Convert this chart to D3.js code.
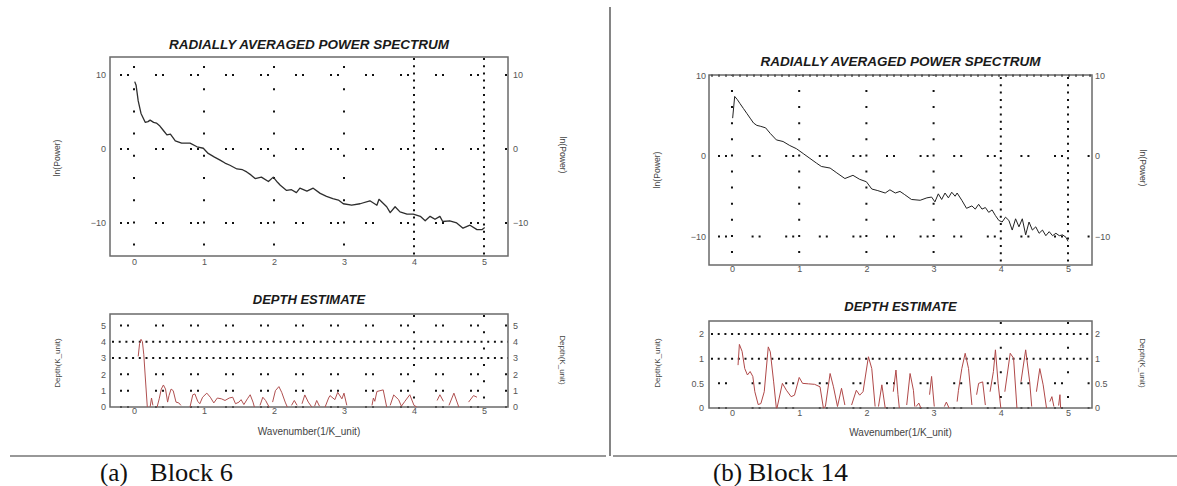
<!DOCTYPE html>
<html><head><meta charset="utf-8">
<script src="https://cdn.jsdelivr.net/npm/d3@7"></script>
<style>body{margin:0;background:#fff;} svg{display:block;}</style>
</head><body>
<svg id="c" width="1177" height="486"></svg>
<script>
// ---------------- DATA ----------------
const wavenumberTicks = [0, 1, 2, 3, 4, 5];
const powerTicks = [-10, 0, 10];
const depthTicksA = [0, 1, 2, 3, 4, 5];
const depthTicksB = [0, 0.5, 1, 1.5];
const depthTickLabelsB = ["0", "0.5", "1", "2"];
const chartTitles = ["RADIALLY AVERAGED POWER SPECTRUM", "DEPTH ESTIMATE"];
const axisTitles = ["ln(Power)", "Depth(K_unit)", "Wavenumber(1/K_unit)"];
const captions = [["(a)", "Block 6"], ["(b)", "Block 14"]];

// Block 6 : ln(Power) vs wavenumber
const powerA = [[0.01,9.1],[0.03,8.6],[0.06,6.5],[0.1,4.8],[0.16,3.6],[0.2,3.7],[0.23,3.9],[0.28,3.6],[0.32,3.5],[0.37,3.1],
  [0.42,2.5],[0.47,1.9],[0.52,2.0],[0.59,1.1],[0.68,0.8],[0.8,0.8],[0.9,0.3],[0.99,0.1],[1.06,-0.6],[1.15,-1.1],
  [1.23,-1.5],[1.3,-1.9],[1.37,-2.2],[1.47,-2.7],[1.55,-2.8],[1.61,-3.1],[1.67,-3.5],[1.73,-4.0],[1.82,-3.8],[1.92,-4.4],
  [1.99,-3.8],[2.05,-4.5],[2.09,-4.9],[2.18,-5.6],[2.25,-5.5],[2.32,-5.9],[2.37,-5.3],[2.47,-5.7],[2.56,-5.3],[2.66,-6.0],
  [2.75,-6.4],[2.84,-6.7],[2.92,-6.9],[2.99,-7.4],[3.11,-7.6],[3.23,-7.4],[3.37,-7.0],[3.47,-7.6],[3.5,-6.8],[3.61,-7.8],
  [3.66,-8.6],[3.73,-7.8],[3.8,-8.5],[3.9,-8.8],[3.99,-8.8],[4.09,-9.1],[4.16,-9.7],[4.23,-9.1],[4.3,-9.5],[4.37,-9.1],
  [4.41,-9.8],[4.51,-9.7],[4.61,-10.0],[4.7,-10.7],[4.8,-10.3],[4.9,-10.9],[4.97,-10.9],[5.01,-10.6]];

// Block 6 : depth estimate (null = break in the curve)
const depthA = [[0.06,3.1],[0.08,3.9],[0.10,4.15],[0.12,4.0],[0.14,3.2],[0.16,1.9],[0.19,0.0],null,
  [0.23,0.0],[0.25,0.55],[0.27,0.1],null,
  [0.33,0.0],[0.36,0.5],[0.39,1.1],[0.42,1.35],[0.45,1.1],[0.48,0.3],[0.50,0.7],[0.53,1.1],[0.56,1.0],[0.60,0.3],[0.64,0.25],[0.67,0.1],null,
  [0.80,0.0],[0.84,0.75],[0.87,0.8],[0.91,0.35],[0.94,0.2],[0.98,0.6],[1.04,0.85],[1.09,0.6],[1.14,0.25],[1.19,0.55],[1.25,0.5],
  [1.30,0.4],[1.36,0.55],[1.41,0.6],[1.45,0.2],[1.50,0.3],[1.53,0.45],[1.57,0.15],[1.62,0.5],[1.66,0.75],[1.70,0.3],[1.72,0.0],null,
  [1.80,0.1],[1.84,0.6],[1.88,0.4],[1.93,0.0],null,
  [1.98,0.3],[2.02,1.0],[2.07,1.25],[2.11,0.9],[2.16,0.3],[2.19,0.0],null,
  [2.25,0.1],[2.29,0.4],[2.33,0.1],null,
  [2.40,0.2],[2.44,0.74],[2.49,0.3],[2.54,0.0],null,
  [2.58,0.05],[2.61,0.4],[2.65,0.05],null,
  [2.73,0.0],[2.78,0.55],[2.80,0.7],[2.87,0.45],[2.91,0.9],[2.97,0.5],[3.00,0.85],[3.04,0.1],null,
  [3.40,0.1],[3.42,0.55],[3.44,0.35],[3.47,0.95],[3.56,1.05],[3.61,0.0],null,
  [3.66,0.1],[3.71,0.74],[3.78,0.45],[3.82,0.05],[3.87,0.35],[3.94,0.75],[4.00,0.1],[4.04,0.0],null,
  [4.33,0.4],[4.37,0.75],[4.42,0.35],null,
  [4.50,0.1],[4.57,0.85],[4.64,0.0],null,
  [4.78,0.3],[4.85,0.7],[4.90,0.6]];

// Block 14 : ln(Power) vs wavenumber
const powerB = [[0.01,4.7],[0.04,7.4],[0.08,7.0],[0.12,6.5],[0.17,5.9],[0.22,5.3],[0.27,4.7],[0.32,4.1],[0.37,3.8],[0.42,3.7],
  [0.5,3.5],[0.57,2.8],[0.66,2.0],[0.76,1.8],[0.86,1.3],[0.96,0.9],[1.06,0.3],[1.16,-0.3],[1.26,-0.9],[1.33,-1.3],
  [1.46,-1.5],[1.56,-2.1],[1.68,-2.8],[1.8,-2.4],[1.9,-2.9],[2.0,-3.2],[2.08,-4.1],[2.17,-4.3],[2.28,-4.6],[2.35,-4.2],
  [2.43,-4.6],[2.5,-4.4],[2.57,-4.8],[2.67,-5.4],[2.8,-5.5],[2.9,-5.2],[2.97,-5.1],[3.02,-5.7],[3.07,-4.7],[3.12,-5.4],
  [3.17,-4.6],[3.22,-5.2],[3.27,-4.5],[3.32,-5.0],[3.35,-4.6],[3.42,-5.5],[3.49,-6.5],[3.57,-6.2],[3.62,-6.6],[3.67,-6.0],
  [3.72,-6.6],[3.77,-6.4],[3.82,-7.0],[3.87,-6.7],[3.92,-7.4],[3.97,-8.0],[4.02,-8.2],[4.07,-7.6],[4.12,-8.0],[4.17,-9.2],
  [4.22,-7.8],[4.27,-8.8],[4.32,-7.8],[4.37,-9.8],[4.42,-8.2],[4.47,-9.2],[4.52,-8.8],[4.57,-9.6],[4.62,-9.2],[4.67,-9.9],
  [4.72,-9.4],[4.77,-9.9],[4.82,-9.6],[4.87,-9.9],[4.92,-9.8],[4.97,-10.1],[5.0,-10.6]];

// Block 14 : depth estimate (null = break in the curve)
const depthB = [[0.09,0.87],[0.11,1.29],[0.15,1.15],[0.19,0.8],[0.23,0.67],[0.27,0.74],[0.31,0.64],[0.34,0.33],[0.39,0.07],
  [0.43,0.09],[0.48,0.33],[0.54,1.24],[0.57,1.14],[0.62,0.53],[0.66,0.0],[0.67,0.0],[0.75,0.5],[0.81,0.36],[0.88,0.23],
  [0.93,0.26],[1.00,0.62],[1.05,0.5],[1.14,0.49],[1.23,0.48],[1.31,0.43],[1.36,0.0],[1.39,0.03],[1.46,0.7],[1.51,0.43],
  [1.57,0.03],[1.63,0.4],[1.68,0.06],null,
  [1.78,0.06],[1.85,0.36],[1.90,0.26],[1.95,0.33],[2.03,1.04],[2.08,0.8],[2.13,0.03],null,
  [2.18,0.03],[2.23,0.47],[2.28,0.0],null,
  [2.40,0.33],[2.44,0.77],[2.47,0.27],[2.49,0.0],null,
  [2.60,0.06],[2.65,0.7],[2.70,0.36],[2.72,0.03],null,
  [2.74,0.03],[2.78,0.1],[2.81,0.0],null,
  [2.94,0.27],[2.97,0.64],[3.01,0.03],null,
  [3.16,0.03],[3.19,0.12],[3.23,0.0],null,
  [3.35,0.13],[3.37,0.36],[3.42,0.8],[3.47,1.11],[3.52,0.8],[3.57,0.06],null,
  [3.64,0.27],[3.67,0.5],[3.73,0.53],[3.77,0.06],null,
  [3.84,0.33],[3.89,0.74],[3.92,1.18],[3.96,0.5],[4.00,0.0],null,
  [4.06,0.33],[4.14,1.11],[4.19,1.01],[4.24,0.0],null,
  [4.30,0.53],[4.37,1.18],[4.43,0.53],[4.46,0.03],null,
  [4.53,0.33],[4.58,0.8],[4.63,0.47],[4.68,0.0],null,
  [4.73,0.13],[4.76,0.23],[4.79,0.03],null,
  [4.86,0.05],[4.88,0.27],[4.89,0.0]];

// ---------------- DRAWING ----------------
const svg = d3.select("#c");
const SANS = "'Liberation Sans', Arial, Helvetica, sans-serif";
const SERIF = "'Liberation Serif', 'Times New Roman', serif";
const PAIRS = "2,5,2,26";

function drawChart(cfg) {
  const g = svg.append("g");
  const x = d3.scaleLinear().domain(cfg.xDomain).range([cfg.left, cfg.right]);
  const y = d3.scaleLinear().domain(cfg.yDomain).range([cfg.bottom, cfg.top]);

  // dotted grid
  const gg = g.append("g").attr("stroke", "#111").attr("stroke-width", 2).attr("fill", "none");
  (cfg.vGrid || []).forEach(([vals, dash, first]) => {
    const period = dash.split(",").map(Number).reduce((a, b) => a + b, 0);
    vals.forEach(v => gg.append("line")
      .attr("x1", x(v)).attr("x2", x(v)).attr("y1", cfg.top).attr("y2", cfg.bottom)
      .attr("stroke-dasharray", dash).attr("stroke-dashoffset", period - first));
  });
  (cfg.hGrid || []).forEach(([vals, dash, first]) => {
    const period = dash.split(",").map(Number).reduce((a, b) => a + b, 0);
    vals.forEach(v => gg.append("line")
      .attr("y1", y(v)).attr("y2", y(v)).attr("x1", cfg.left).attr("x2", cfg.right)
      .attr("stroke-dasharray", dash).attr("stroke-dashoffset", period - first));
  });

  // frame
  g.append("rect").attr("x", cfg.left).attr("y", cfg.top)
    .attr("width", cfg.right - cfg.left).attr("height", cfg.bottom - cfg.top)
    .attr("fill", "none").attr("stroke", "#6a6a6a").attr("stroke-width", 1.5);

  // data line
  const line = d3.line().defined(d => d !== null).x(d => x(d[0])).y(d => y(d[1]));
  g.append("path").datum(cfg.data).attr("d", line)
    .attr("fill", "none").attr("stroke", cfg.color).attr("stroke-width", cfg.lineWidth)
    .attr("stroke-linejoin", "round");

  // axes (labels only)
  const fmt = cfg.yLabels ? (d, i) => cfg.yLabels[i] : d3.format("d");
  const style = sel => {
    sel.select(".domain").remove();
    sel.selectAll("text").attr("font-family", SANS).attr("font-size", 9).attr("fill", "#555");
  };
  g.append("g").attr("transform", `translate(0,${cfg.bottom})`)
    .call(d3.axisBottom(x).tickValues(wavenumberTicks).tickSize(0).tickPadding(cfg.xPad).tickFormat(d3.format("d")))
    .call(style);
  g.append("g").attr("transform", `translate(${cfg.left},0)`)
    .call(d3.axisLeft(y).tickValues(cfg.yTicks).tickSize(0).tickPadding(cfg.lPad).tickFormat(fmt))
    .call(style);
  g.append("g").attr("transform", `translate(${cfg.right},0)`)
    .call(d3.axisRight(y).tickValues(cfg.yTicks).tickSize(0).tickPadding(cfg.rPad).tickFormat(fmt))
    .call(style);

  // title
  g.append("text").attr("x", (cfg.left + cfg.right) / 2).attr("y", cfg.titleY)
    .attr("text-anchor", "middle").attr("dominant-baseline", "middle")
    .attr("font-family", SANS).attr("font-size", cfg.titleSize).attr("font-weight", "bold")
    .attr("font-style", "italic").attr("fill", "#1a1a1a").text(cfg.title);

  // y axis titles
  g.append("text").attr("transform", `translate(${cfg.yTitleL[0]},${cfg.yTitleL[1]}) rotate(-90)`)
    .attr("text-anchor", "middle").attr("dominant-baseline", "middle")
    .attr("font-family", SANS).attr("font-size", cfg.yTitleSize).attr("fill", "#444").text(cfg.yTitle);
  g.append("text").attr("transform", `translate(${cfg.yTitleR[0]},${cfg.yTitleR[1]}) rotate(90)`)
    .attr("text-anchor", "middle").attr("dominant-baseline", "middle")
    .attr("font-family", SANS).attr("font-size", cfg.yTitleSize).attr("fill", "#444").text(cfg.yTitle);

  if (cfg.xTitleY) {
    g.append("text").attr("x", (cfg.left + cfg.right) / 2).attr("y", cfg.xTitleY)
      .attr("text-anchor", "middle").attr("dominant-baseline", "middle")
      .attr("font-family", SANS).attr("font-size", 10).attr("fill", "#444").text(axisTitles[2]);
  }
}

// ---- Block 6 ----
drawChart({
  left: 110, right: 508, top: 57, bottom: 256,
  xDomain: [-0.343, 5.343], yDomain: [-14.46, 12.43],
  data: powerA, color: "#2e2e2e", lineWidth: 1.3,
  yTicks: powerTicks, xPad: 3, lPad: 4, rPad: 5,
  title: chartTitles[0], titleY: 45, titleSize: 13.5,
  yTitle: axisTitles[0], yTitleSize: 8.6, yTitleL: [58, 158], yTitleR: [562, 155],
  vGrid: [[[0, 1, 2, 3], "2,20.2", 9], [[4, 5], "2,5.2", 1]],
  hGrid: [[[10, 0, -10], PAIRS, 10]]
});
drawChart({
  left: 110, right: 508, top: 314, bottom: 407,
  xDomain: [-0.343, 5.343], yDomain: [0, 5.7],
  data: depthA, color: "#b05050", lineWidth: 1,
  yTicks: depthTicksA, xPad: 1, lPad: 4, rPad: 5,
  title: chartTitles[1], titleY: 301, titleSize: 13,
  yTitle: axisTitles[1], yTitleSize: 8, yTitleL: [58, 363], yTitleR: [562, 360],
  xTitleY: 432,
  vGrid: [[[4, 5], "2,14.3", 1]],
  hGrid: [[[4, 3], "2,4.7", 2], [[5, 2, 1, 0], PAIRS, 10]]
});

// ---- Block 14 ----
drawChart({
  left: 709, right: 1092, top: 75, bottom: 265,
  xDomain: [-0.342, 5.357], yDomain: [-13.54, 10.06],
  data: powerB, color: "#222", lineWidth: 1,
  yTicks: powerTicks, xPad: 1, lPad: 3, rPad: 3,
  title: chartTitles[0], titleY: 62, titleSize: 13.5,
  yTitle: axisTitles[0], yTitleSize: 8.6, yTitleL: [658, 170], yTitleR: [1142, 168],
  vGrid: [[[0, 1, 2, 3], "2,14.1", 15], [[4, 5], "2,5.3", 2]],
  hGrid: [[[10], "2,5", 2], [[0, -10], "2,5,2,24.6", 9]]
});
drawChart({
  left: 709, right: 1092, top: 321, bottom: 408,
  xDomain: [-0.342, 5.357], yDomain: [0, 1.765],
  data: depthB, color: "#b04848", lineWidth: 1,
  yTicks: depthTicksB, yLabels: depthTickLabelsB, xPad: 2, lPad: 5, rPad: 3,
  title: chartTitles[1], titleY: 308, titleSize: 13,
  yTitle: axisTitles[1], yTitleSize: 8, yTitleL: [658, 363], yTitleR: [1142, 363],
  xTitleY: 433,
  vGrid: [[[4, 5], "2,22.65", 1]],
  hGrid: [[[1.5, 1], "2,4.7", 2], [[0.5, 0], "2,5,2,24.6", 9]]
});

// ---- separators & captions ----
const sep = svg.append("g").attr("stroke", "#333").attr("stroke-width", 1.2);
sep.append("line").attr("x1", 610).attr("x2", 610).attr("y1", 7).attr("y2", 456);
sep.append("line").attr("x1", 10).attr("x2", 606).attr("y1", 456).attr("y2", 456);
sep.append("line").attr("x1", 613).attr("x2", 1177).attr("y1", 456).attr("y2", 456);

// caption placement: [x of label, x of block name, width of block name]
const capLayout = [[100, 150, 83], [713, 748, 100]];
captions.forEach((c, i) => {
  const L = capLayout[i];
  svg.append("text").attr("x", L[0]).attr("y", 481).attr("font-family", SERIF)
    .attr("font-size", 25).attr("fill", "#111").text(c[0]);
  svg.append("text").attr("x", L[1]).attr("y", 481).attr("font-family", SERIF)
    .attr("font-size", 25).attr("fill", "#111")
    .attr("textLength", L[2]).attr("lengthAdjust", "spacingAndGlyphs").text(c[1]);
});
</script>
</body></html>
